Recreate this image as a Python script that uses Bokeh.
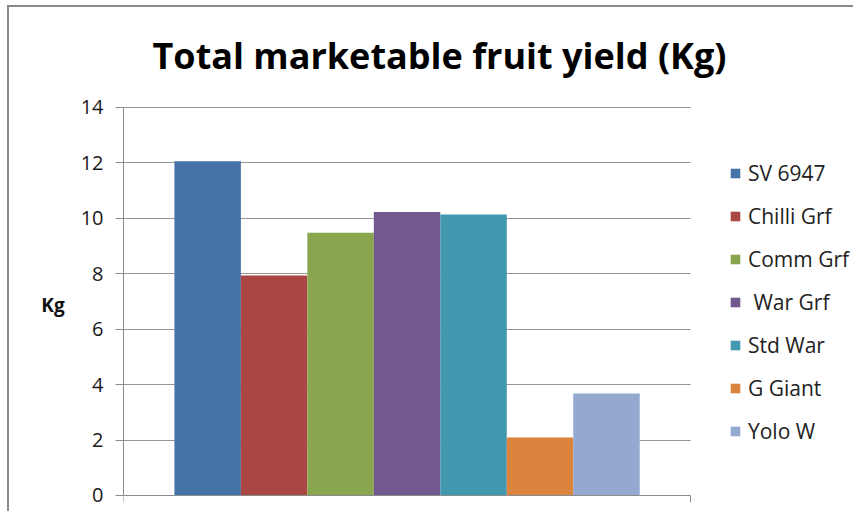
from bokeh.plotting import figure
from bokeh.models import ColumnDataSource, Range1d, FixedTicker, Title
from bokeh.embed import file_html
from bokeh.resources import INLINE

# ---- data ----
series = ["SV 6947", "Chilli Grf", "Comm Grf", " War Grf", "Std War", "G Giant", "Yolo W"]
yield_kg = [12.06, 7.94, 9.48, 10.23, 10.14, 2.09, 3.68]
colors = ["#4572A7", "#AA4643", "#89A54E", "#71588F", "#4198AF", "#DB843D", "#93A9CF"]
y_ticks = [0, 2, 4, 6, 8, 10, 12, 14]
y_max = 14
title_text = "Total marketable fruit yield (Kg)"
y_label = "Kg"

# ---- layout constants ----
GAP = 0.766          # empty space each side of the bar group, in bar widths
RIGHT_PAD = 2.45     # room right of the plot area (legend), in bar widths
TOP_PAD = 0.036      # y units above the top gridline
BOTTOM_PAD = 0.2526  # y units below zero
n = len(series)
x_start, x_end = -0.5 - GAP, n - 0.5 + GAP

source = ColumnDataSource(dict(x=list(range(n)), top=yield_kg, name=series, color=colors))

p = figure(width=853, height=511, output_backend="svg", toolbar_location=None,
           x_range=Range1d(x_start, x_end + RIGHT_PAD),
           y_range=Range1d(-BOTTOM_PAD, y_max + TOP_PAD),
           min_border_left=123, min_border_right=0, min_border_top=106, min_border_bottom=9)
p.outline_line_color = None
p.background_fill_color = None
p.border_fill_color = None
p.styles = {
    "background": "linear-gradient(#8a8a8a,#8a8a8a) 7px 5px / 2px 100% no-repeat, "
                  "linear-gradient(#8a8a8a,#8a8a8a) 7px 5px / 100% 2px no-repeat, white"
}

p.vbar(x="x", top="top", width=1.0, bottom=0, source=source, fill_color="color",
       line_color=None, legend_field="name")

# y axis
ya = p.yaxis[0]
ya.ticker = FixedTicker(ticks=y_ticks)
ya.bounds = (0, y_max)
ya.axis_line_color = "#8c8c8c"
ya.major_tick_line_color = "#8c8c8c"
ya.major_tick_in = 0
ya.major_tick_out = 8
ya.minor_tick_line_color = None
ya.major_label_text_font = "Open Sans"
ya.major_label_text_font_size = "20px"
ya.major_label_text_color = "#1a1a1a"
ya.major_label_standoff = 12
ya.axis_label = y_label
ya.axis_label_text_font = "Open Sans"
ya.axis_label_text_font_style = "bold"
ya.axis_label_text_font_size = "19px"
ya.axis_label_text_color = "#111111"
ya.axis_label_orientation = "horizontal"
ya.axis_label_standoff = 13

# x axis at y = 0: a line with small ticks at the category boundaries only
xa = p.xaxis[0]
xa.fixed_location = 0
xa.ticker = FixedTicker(ticks=[], minor_ticks=[x_start, x_end])
xa.bounds = (x_start, x_end)
xa.axis_line_color = "#8c8c8c"
xa.major_tick_line_color = None
xa.minor_tick_line_color = "#8c8c8c"
xa.minor_tick_in = 0
xa.minor_tick_out = 7
xa.major_tick_out = 0
xa.major_label_standoff = 0

p.xgrid.grid_line_color = None
p.ygrid.ticker = FixedTicker(ticks=y_ticks)
p.ygrid.cross_bounds = (x_start, x_end)
p.ygrid.grid_line_color = "#959595"
p.ygrid.grid_line_width = 1

# title
p.add_layout(Title(text=title_text, align="left", offset=29, vertical_align="bottom",
                   standoff=53, text_font="Open Sans", text_font_style="bold",
                   text_font_size="36px", text_color="black"), "above")

# legend
lg = p.legend[0]
lg.location = (606, 56)
lg.border_line_color = None
lg.background_fill_alpha = 0
lg.padding = 0
lg.margin = 0
lg.glyph_width = 12
lg.glyph_height = 12
lg.label_height = 30
lg.spacing = 13
lg.label_standoff = 7
lg.label_text_font = "Open Sans"
lg.label_text_font_size = "21px"
lg.label_text_color = "#222222"

open("out.html", "w").write(file_html(p, INLINE))
